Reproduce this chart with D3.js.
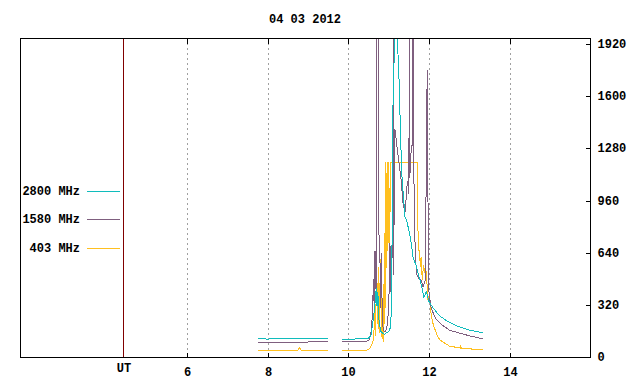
<!DOCTYPE html>
<html>
<head>
<meta charset="utf-8">
<script src="https://cdn.jsdelivr.net/npm/d3@7"></script>
<style>
  html, body { margin: 0; padding: 0; background: #fff; }
  svg { display: block; }
  text { font-family: "Liberation Mono", "DejaVu Sans Mono", monospace; font-size: 12px; font-weight: bold; fill: #000; }
</style>
</head>
<body>
<svg id="chart" width="640" height="384"></svg>
<script>
// ---- data ----
const title = "04 03 2012";
const seriesNames = ["2800 MHz", "1580 MHz", "403 MHz"];
const seriesColors = ["#10bcbc", "#7f5f7f", "#ffc020"];
const xTicks = [6, 8, 10, 12, 14];
const yTicks = [0, 320, 640, 960, 1280, 1600, 1920];
const utHour = 4.43;
const xDomain = [1.875, 15.98];
const yDomain = [0, 1957];

// 2800 MHz
const t2800 = [7.76, 8.0, 8.3, 8.6, 8.9, 9.2, 9.5, 9.52, 9.85, 10.1, 10.3, 10.45, 10.52, 10.56, 10.6, 10.63, 10.66, 10.69, 10.71, 10.73, 10.76, 10.8, 10.85, 10.9, 10.95, 11.0, 11.04, 11.07, 11.09, 11.11, 11.13, 11.17, 11.21, 11.23, 11.24, 11.255, 11.28, 11.30, 11.32, 11.36, 11.40, 11.44, 11.48, 11.53, 11.57, 11.60, 11.65, 11.69, 11.75, 11.82, 11.87, 11.93, 12.0, 12.1, 12.2, 12.3, 12.45, 12.6, 12.8, 13.0, 13.2, 13.34];
const v2800 = [112, 110, 113, 111, 114, 112, 115, null, 110, 110, 111, 113, 118, 135, 200, 260, 330, 420, 310, 400, 220, 160, 145, 140, 150, 155, 180, 300, 1000, 1700, 1800, 2050, 2050, 1850, 1800, 1700, 1470, 1300, 1130, 995, 860, 840, 797, 736, 675, 613, 580, 552, 491, 429, 368, 400, 337, 300, 270, 245, 220, 200, 180, 165, 155, 147];

// 1580 MHz
const t1580 = [7.76, 8.0, 8.3, 8.6, 8.9, 9.05, 9.2, 9.5, 9.52, 9.85, 10.1, 10.3, 10.45, 10.52, 10.56, 10.6, 10.62, 10.64, 10.66, 10.68, 10.69, 10.70, 10.705, 10.745, 10.75, 10.76, 10.78, 10.8, 10.82, 10.84, 10.87, 10.9, 10.95, 11.0, 11.03, 11.06, 11.08, 11.105, 11.11, 11.115, 11.12, 11.15, 11.2, 11.25, 11.3, 11.35, 11.4, 11.44, 11.46, 11.5, 11.505, 11.515, 11.52, 11.55, 11.57, 11.595, 11.60, 11.61, 11.615, 11.63, 11.66, 11.7, 11.75, 11.8, 11.85, 11.9, 11.94, 11.95, 11.965, 11.975, 12.0, 12.05, 12.15, 12.3, 12.5, 12.77, 13.0, 13.34];
const v1580 = [88, 88, 87, 89, 88, 94, 95, 95, null, 94, 95, 95, 97, 105, 150, 270, 480, 300, 650, 420, 420, 1800, 2100, 2100, 1800, 600, 640, 300, 640, 220, 165, 155, 170, 300, 700, 350, 600, 900, 2100, 2100, 500, 1400, 1300, 1200, 1100, 950, 880, 1000, 1080, 1000, 2100, 2100, 1100, 1250, 1300, 1300, 2100, 2100, 1400, 900, 600, 500, 480, 470, 430, 470, 1400, 1760, 1760, 500, 380, 300, 240, 200, 165, 145, 130, 110];

// 403 MHz
const t403 = [7.76, 8.0, 8.2, 8.3, 8.5, 8.75, 8.8, 8.82, 8.85, 9.0, 9.2, 9.5, 9.52, 9.85, 10.0, 10.2, 10.4, 10.5, 10.55, 10.6, 10.63, 10.65, 10.67, 10.69, 10.7, 10.72, 10.74, 10.76, 10.78, 10.8, 10.82, 10.84, 10.86, 10.88, 10.905, 10.91, 10.92, 10.94, 10.96, 10.98, 11.0, 11.02, 11.05, 11.3, 11.5, 11.71, 11.72, 11.74, 11.76, 11.78, 11.8, 11.83, 11.86, 11.9, 11.93, 11.97, 12.0, 12.05, 12.1, 12.2, 12.27, 12.5, 12.77, 12.78, 12.8, 13.0, 13.34];
const v403 = [42, 41, 38, 40, 41, 42, 60, 44, 42, 40, 39, 40, null, 41, 40, 37, 40, 45, 60, 90, 120, 300, 130, 400, 650, 200, 550, 150, 420, 600, 120, 300, 90, 450, 200, 1196, 300, 700, 1196, 650, 1196, 700, 1196, 1196, 1196, 1196, 800, 656, 656, 554, 615, 472, 565, 509, 520, 350, 380, 258, 200, 130, 104, 67, 55, 70, 55, 50, 43];

// ---- layout ----
const L = 20, R = 590, T = 38, B = 357;
const svg = d3.select("#chart");
const x = d3.scaleLinear().domain(xDomain).range([L, R]);
const y = d3.scaleLinear().domain(yDomain).range([B, T]);

svg.append("defs").append("clipPath").attr("id", "plotclip")
  .append("rect").attr("x", L).attr("y", T).attr("width", R - L).attr("height", B - T);

// title
svg.append("text").attr("x", 305).attr("y", 23).attr("text-anchor", "middle").text(title);

// gridlines
svg.append("g").selectAll("line").data(xTicks).join("line")
  .attr("x1", d => Math.round(x(d)) + 0.5).attr("x2", d => Math.round(x(d)) + 0.5)
  .attr("y1", T + 5).attr("y2", B - 5)
  .attr("stroke", "#a0a0a0").attr("stroke-dasharray", "2,3")
  .attr("shape-rendering", "crispEdges");

// UT line
svg.append("line")
  .attr("x1", Math.round(x(utHour)) + 0.5).attr("x2", Math.round(x(utHour)) + 0.5)
  .attr("y1", T).attr("y2", B).attr("stroke", "#800000")
  .attr("shape-rendering", "crispEdges");

// series
const series = [[t2800, v2800], [t1580, v1580], [t403, v403]];
const line = d3.line().defined(d => d[1] !== null).x(d => x(d[0])).y(d => y(d[1])).curve(d3.curveLinear);
const plot = svg.append("g").attr("clip-path", "url(#plotclip)");
// draw 403 first, then 1580, then 2800 on top
[2, 1, 0].forEach(i => {
  const pts = series[i][0].map((t, k) => [t, series[i][1][k]]);
  plot.append("path").datum(pts).attr("d", line)
    .attr("fill", "none").attr("stroke", seriesColors[i]).attr("stroke-width", 1)
    .attr("shape-rendering", "crispEdges");
});

// axes
const axBottom = d3.axisBottom(x).tickValues(xTicks).tickSizeInner(-5).tickSizeOuter(0).tickPadding(10).tickFormat(d3.format("d"));
const gb = svg.append("g").attr("transform", `translate(0,${B + 0.5})`).call(axBottom);
const axTop = d3.axisTop(x).tickValues(xTicks).tickSizeInner(-5).tickSizeOuter(0).tickFormat("");
const gt = svg.append("g").attr("transform", `translate(0,${T + 0.5})`).call(axTop);
const axRight = d3.axisRight(y).tickValues(yTicks).tickSizeInner(-5).tickSizeOuter(0).tickPadding(7).tickFormat(d3.format("d"));
const gr = svg.append("g").attr("transform", `translate(${R + 0.5},0)`).call(axRight);
[gb, gt, gr].forEach(g => {
  g.select(".domain").remove();
  g.selectAll(".tick line").attr("stroke", "#000").attr("shape-rendering", "crispEdges");
  g.selectAll(".tick text").style("fill", "#000");
  g.attr("font-family", null).attr("font-size", null);
});
gr.selectAll(".tick").attr("transform", d => `translate(0,${Math.round(y(d)) + 0.5})`);
gb.selectAll(".tick").attr("transform", d => `translate(${Math.round(x(d)) + 0.5},0)`);
gt.selectAll(".tick").attr("transform", d => `translate(${Math.round(x(d)) + 0.5},0)`);

// frame
svg.append("rect").attr("x", L + 0.5).attr("y", T + 0.5).attr("width", R - L).attr("height", B - T)
  .attr("fill", "none").attr("stroke", "#000").attr("shape-rendering", "crispEdges");

// UT label
svg.append("text").attr("x", Math.round(x(utHour)) + 1).attr("y", 372).attr("text-anchor", "middle").text("UT");

// legend
const legY = [191, 219, 248];
const leg = svg.append("g");
seriesNames.forEach((name, i) => {
  leg.append("text").attr("x", 80).attr("y", legY[i] + 4).attr("text-anchor", "end").text(name);
  leg.append("line").attr("x1", 87).attr("x2", 120).attr("y1", legY[i] + 0.5).attr("y2", legY[i] + 0.5)
    .attr("stroke", seriesColors[i]).attr("shape-rendering", "crispEdges");
});
</script>
</body>
</html>
